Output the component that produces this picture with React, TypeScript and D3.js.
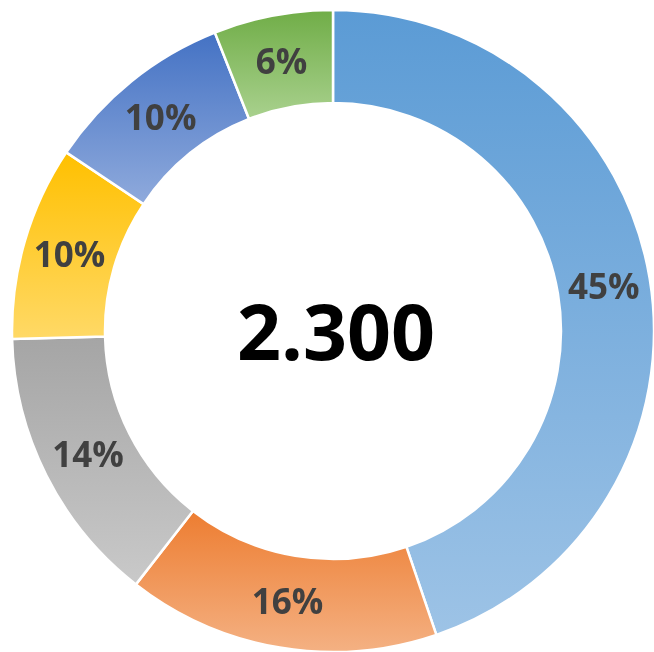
import React, { useEffect, useRef } from 'react';
import * as d3 from 'd3';

// slices, clockwise from 12 o'clock
const categories = ['A', 'B', 'C', 'D', 'E', 'F'];
const values = [1030, 362, 324, 225, 221, 138];
const topColors = ['#5B9BD5', '#ED7D31', '#A5A5A5', '#FFC000', '#4472C4', '#70AD47'];
const bottomColors = ['#9DC3E6', '#F4B183', '#C9C9C9', '#FFD966', '#8FAADC', '#A9D18E'];
const totalLabel = '2.300';

const App = () => {
  const ref = useRef<SVGSVGElement>(null);

  useEffect(() => {
    const width = 654,
      height = 652;
    const cx = 333,
      cy = 331,
      outer = 321,
      inner = 228;

    const svg = d3.select(ref.current).attr('width', width).attr('height', height);
    svg.selectAll('*').remove();

    const defs = svg.append('defs');
    categories.forEach((c, i) => {
      const g = defs
        .append('linearGradient')
        .attr('id', 'grad' + i)
        .attr('x1', 0)
        .attr('y1', 0)
        .attr('x2', 0)
        .attr('y2', 1);
      g.append('stop').attr('offset', '0%').attr('stop-color', topColors[i]);
      g.append('stop').attr('offset', '100%').attr('stop-color', bottomColors[i]);
    });

    const total = d3.sum(values);
    const pie = d3.pie<number>().sort(null).value(d => d);
    const arc = d3.arc<d3.PieArcDatum<number>>().innerRadius(inner).outerRadius(outer);

    const g = svg.append('g').attr('transform', 'translate(' + cx + ',' + cy + ')');

    const arcs = pie(values);

    g.selectAll('path')
      .data(arcs)
      .enter()
      .append('path')
      .attr('d', arc)
      .attr('fill', (d, i) => 'url(#grad' + i + ')')
      .attr('stroke', '#ffffff')
      .attr('stroke-width', 2.5);

    g.selectAll('text.lbl')
      .data(arcs)
      .enter()
      .append('text')
      .attr('class', 'lbl')
      .attr('x', d => arc.centroid(d)[0])
      .attr('y', d => arc.centroid(d)[1])
      .attr('dy', '0.36em')
      .attr('text-anchor', 'middle')
      .style('font-family', '"Open Sans", sans-serif')
      .style('font-weight', 'bold')
      .style('font-size', '35px')
      .style('fill', '#404040')
      .text(d => Math.round((d.data / total) * 100) + '%');

    g.append('text')
      .attr('x', 3)
      .attr('y', 29)
      .attr('text-anchor', 'middle')
      .style('font-family', '"Open Sans", sans-serif')
      .style('font-weight', 'bold')
      .style('font-size', '77px')
      .style('fill', '#000000')
      .text(totalLabel);
  }, []);

  return (
    <div style={{ position: 'fixed', left: 0, top: 0 }}>
      <svg ref={ref} style={{ display: 'block' }}></svg>
    </div>
  );
};

export default App;
